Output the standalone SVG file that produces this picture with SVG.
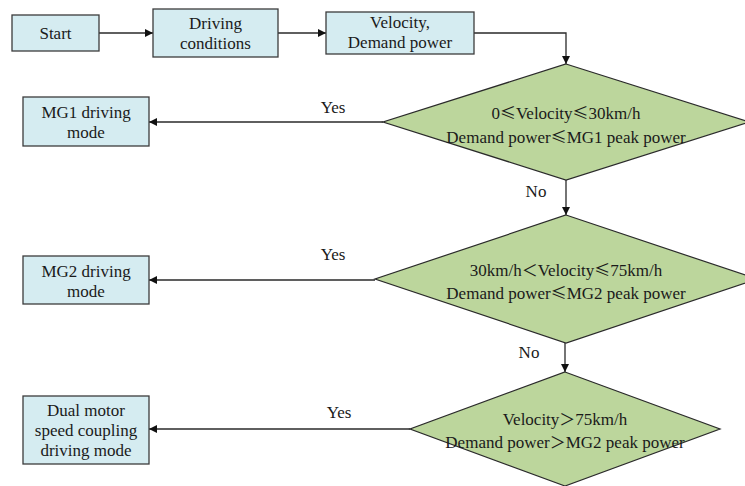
<svg xmlns="http://www.w3.org/2000/svg" width="745" height="486" viewBox="0 0 745 486" font-family="'Liberation Serif', 'DejaVu Serif', serif">
<defs>
<style>
text{font-family:'Liberation Serif','DejaVu Serif',serif;font-size:17px;fill:#1a1a1a;text-anchor:middle}
.cjk{font-family:'Noto Sans CJK SC',sans-serif;font-size:16px}
.box{fill:#d5ecf1;stroke:#3c3c3c;stroke-width:1.3}
.dia{fill:#bcd69c;stroke:#2a2a2a;stroke-width:1.2}
.conn{fill:none;stroke:#2a2a2a;stroke-width:1.3;marker-end:url(#ah)}
</style>
<marker id="ah" viewBox="0 0 10 10" refX="10" refY="5" markerWidth="10" markerHeight="8" markerUnits="userSpaceOnUse" orient="auto">
<path d="M0,0 L10,5 L0,10 z" fill="#111"/>
</marker>
</defs>
<g id="connectors">
<path class="conn" d="M99,33 H153"/>
<path class="conn" d="M278,33 H326"/>
<path class="conn" d="M474,33 H566 V64"/>
<path class="conn" d="M383,122 H149"/>
<path class="conn" d="M566,180 V215"/>
<path class="conn" d="M375,280 H149"/>
<path class="conn" d="M565,343 V372"/>
<path class="conn" d="M410,429 H149"/>
<text x="333" y="113">Yes</text>
<text x="536" y="197">No</text>
<text x="333" y="260">Yes</text>
<text x="529" y="358">No</text>
<text x="339" y="418">Yes</text>
</g>
<g id="start"><rect class="box" x="12" y="15" width="87" height="36"/><text x="55.5" y="39">Start</text></g>
<g id="driving-conditions"><rect class="box" x="153" y="9" width="125" height="48"/><text x="215.5" y="29">Driving</text><text x="215.5" y="49">conditions</text></g>
<g id="velocity-demand"><rect class="box" x="326" y="12" width="148" height="42"/><text x="400" y="28">Velocity,</text><text x="400" y="48">Demand power</text></g>
<g id="decision1"><polygon class="dia" points="566,64 749,122 566,180 383,122"/><text x="566" y="119">0<tspan class="cjk">≤</tspan>Velocity<tspan class="cjk">≤</tspan>30km/h</text><text x="566" y="143">Demand power<tspan class="cjk">≤</tspan>MG1 peak power</text></g>
<g id="mg1"><rect class="box" x="23" y="97" width="126" height="49"/><text x="86" y="118">MG1 driving</text><text x="86" y="138">mode</text></g>
<g id="decision2"><polygon class="dia" points="566,215 757,279 566,343 375,279"/><text x="566" y="276">30km/h<tspan class="cjk">＜</tspan>Velocity<tspan class="cjk">≤</tspan>75km/h</text><text x="566" y="299">Demand power<tspan class="cjk">≤</tspan>MG2 peak power</text></g>
<g id="mg2"><rect class="box" x="23" y="256" width="126" height="48"/><text x="86" y="277">MG2 driving</text><text x="86" y="297">mode</text></g>
<g id="decision3"><polygon class="dia" points="565,372 720,429 565,486 410,429"/><text x="565" y="425">Velocity<tspan class="cjk">＞</tspan>75km/h</text><text x="565" y="448">Demand power<tspan class="cjk">＞</tspan>MG2 peak power</text></g>
<g id="dual"><rect class="box" x="23" y="396" width="126" height="68"/><text x="86" y="416">Dual motor</text><text x="86" y="436">speed coupling</text><text x="86" y="456">driving mode</text></g>
</svg>
